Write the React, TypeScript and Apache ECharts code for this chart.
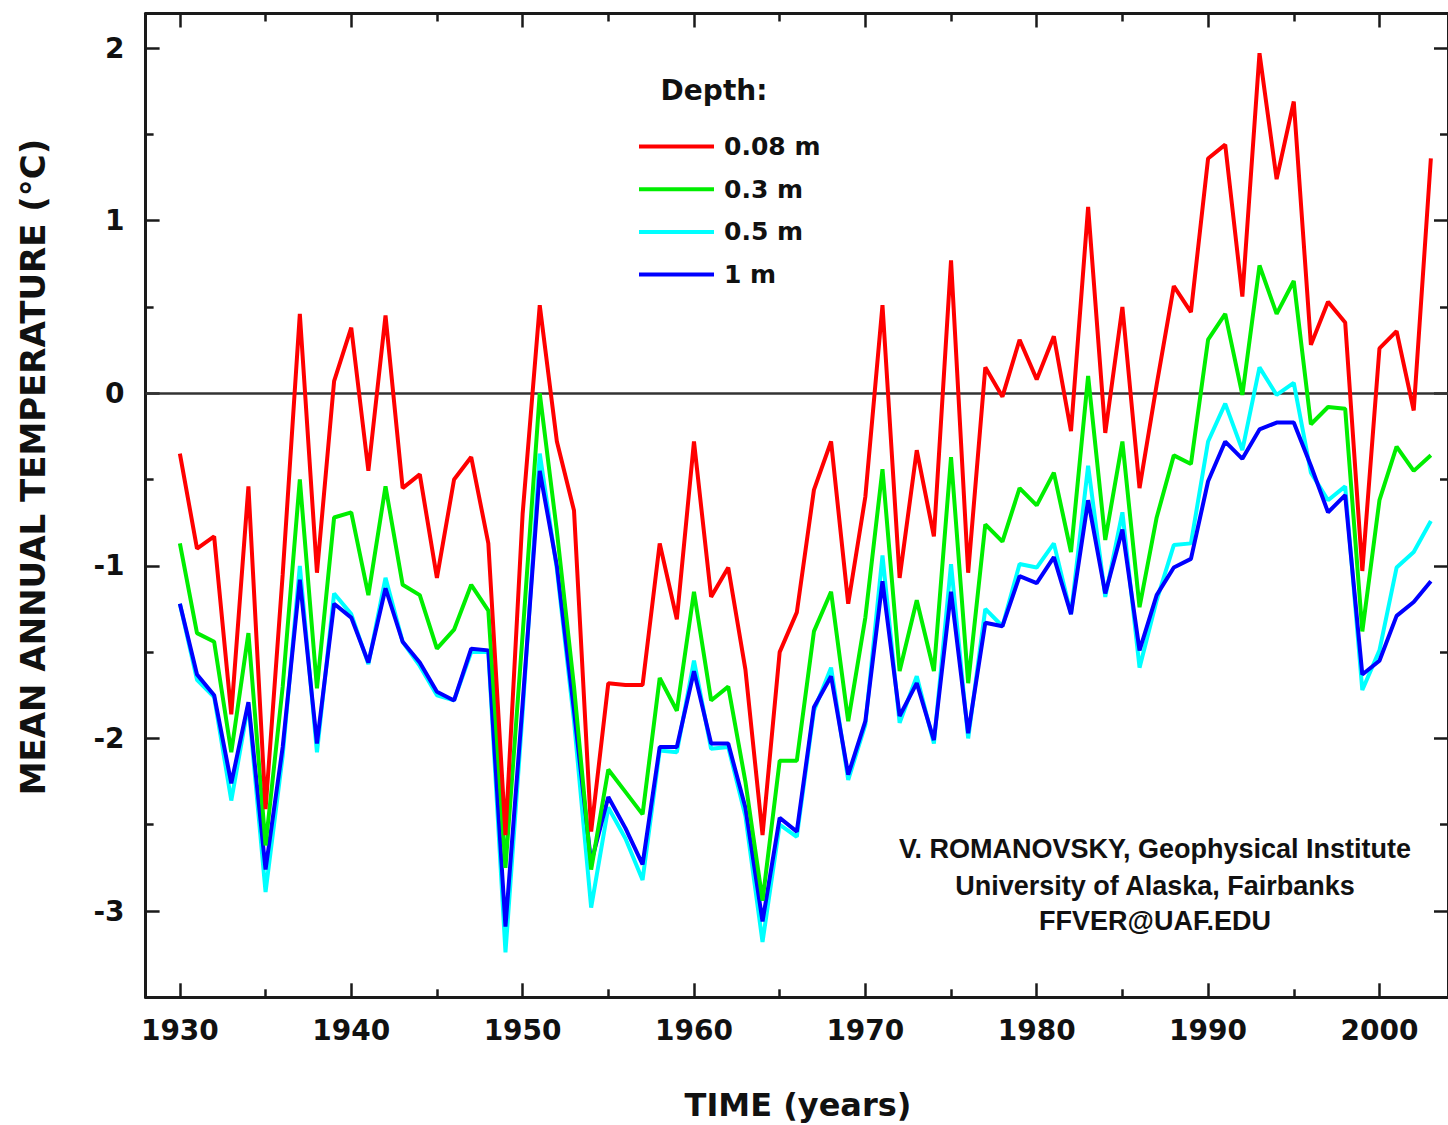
import React, { useEffect, useRef } from "react";
import * as echarts from "echarts";

const START_YEAR = 1930;

// Mean annual ground temperature (°C) by depth, 1930–2003
const depth008 = [
  -0.35, -0.9, -0.83, -1.86, -0.54, -2.41, -1.05, 0.46, -1.04, 0.07,
  0.38, -0.45, 0.45, -0.55, -0.47, -1.07, -0.5, -0.37, -0.87, -2.56,
  -0.7, 0.51, -0.28, -0.68, -2.54, -1.68, -1.69, -1.69, -0.87, -1.31,
  -0.28, -1.18, -1.01, -1.6, -2.56, -1.5, -1.27, -0.56, -0.28, -1.22,
  -0.6, 0.51, -1.07, -0.33, -0.83, 0.77, -1.04, 0.15, -0.02, 0.31,
  0.08, 0.33, -0.22, 1.08, -0.23, 0.5, -0.55, 0.05, 0.62, 0.47,
  1.36, 1.44, 0.56, 1.97, 1.24, 1.69, 0.28, 0.53, 0.41, -1.03,
  0.26, 0.36, -0.1, 1.36,
];
const depth03 = [
  -0.87, -1.39, -1.44, -2.08, -1.39, -2.62, -1.7, -0.5, -1.71, -0.72,
  -0.69, -1.17, -0.54, -1.11, -1.17, -1.48, -1.37, -1.11, -1.26, -2.75,
  -1.4, 0.0, -0.8, -1.7, -2.76, -2.18, -2.31, -2.44, -1.65, -1.84,
  -1.15, -1.78, -1.7, -2.25, -2.94, -2.13, -2.13, -1.38, -1.15, -1.9,
  -1.3, -0.44, -1.61, -1.2, -1.61, -0.37, -1.68, -0.76, -0.86, -0.55,
  -0.65, -0.46, -0.92, 0.1, -0.85, -0.28, -1.24, -0.72, -0.36, -0.41,
  0.31, 0.46, -0.01, 0.74, 0.46, 0.65, -0.18, -0.08, -0.09, -1.38,
  -0.62, -0.31, -0.45, -0.36,
];
const depth05 = [
  -1.22, -1.66, -1.76, -2.36, -1.8, -2.89, -2.1, -1.0, -2.08, -1.16,
  -1.28, -1.57, -1.07, -1.44, -1.58, -1.75, -1.78, -1.5, -1.5, -3.24,
  -1.85, -0.35, -1.02, -1.9, -2.98, -2.4, -2.58, -2.82, -2.07, -2.08,
  -1.55, -2.06, -2.05, -2.45, -3.18, -2.5, -2.57, -1.84, -1.59, -2.24,
  -1.92, -0.94, -1.91, -1.64, -2.03, -0.99, -2.0, -1.25, -1.35, -0.99,
  -1.01, -0.87, -1.28, -0.42, -1.18, -0.69, -1.59, -1.2, -0.88, -0.87,
  -0.28, -0.06, -0.33, 0.15, -0.01, 0.06, -0.46, -0.62, -0.54, -1.72,
  -1.49, -1.01, -0.92, -0.74,
];
const depth1 = [
  -1.22, -1.63, -1.75, -2.26, -1.79, -2.76, -2.05, -1.08, -2.03, -1.22,
  -1.3, -1.56, -1.13, -1.44, -1.56, -1.73, -1.78, -1.48, -1.49, -3.09,
  -1.8, -0.45, -1.0, -1.84, -2.72, -2.34, -2.52, -2.73, -2.05, -2.05,
  -1.61, -2.03, -2.03, -2.4, -3.06, -2.46, -2.54, -1.82, -1.64, -2.21,
  -1.9, -1.09, -1.87, -1.68, -2.01, -1.15, -1.97, -1.33, -1.35, -1.06,
  -1.1, -0.95, -1.28, -0.62, -1.16, -0.79, -1.49, -1.17, -1.01, -0.96,
  -0.51, -0.28, -0.38, -0.21, -0.17, -0.17, -0.42, -0.69, -0.59, -1.63,
  -1.55, -1.29, -1.21, -1.09,
];

const years = depth008.map((_, i) => START_YEAR + i);

const xMajorTicks = [1930, 1940, 1950, 1960, 1970, 1980, 1990, 2000];
const xMinorTicks = [1935, 1945, 1955, 1965, 1975, 1985, 1995];
const yMajorTicks = [-3, -2, -1, 0, 1, 2];
const yMinorTicks = [-2.5, -1.5, -0.5, 0.5, 1.5];

const seriesNames = ["0.08 m", "0.3 m", "0.5 m", "1 m"];
const seriesColors = ["#ff0000", "#00ee00", "#00ffff", "#0000ff"];

const creditLines = [
  "V. ROMANOVSKY, Geophysical Institute",
  "University of Alaska, Fairbanks",
  "FFVER@UAF.EDU",
];

const X_MIN = 1928;
const X_MAX = 2004;
const Y_MIN = -3.5;
const Y_MAX = 2.2;

const NUM_FONT = "DejaVu Sans";
const AXIS_COLOR = "#1a1a1a";

function pairs(values: number[]) {
  return values.map((v, i) => [years[i], v]);
}

export default function App() {
  const ref = useRef<HTMLDivElement>(null);

  useEffect(() => {
    if (!ref.current) return;
    const chart = echarts.init(ref.current, undefined, { renderer: "svg" });

    const gridRect = { left: 145.6, top: 13.5, width: 1306, height: 983.8 };

    const xBase = (gridIndex: number, position: "top" | "bottom", ticks: number[], len: number, labels: boolean, showLine: boolean) => ({
      type: "value",
      gridIndex,
      position,
      min: X_MIN,
      max: X_MAX,
      axisLine: { show: showLine, onZero: false, lineStyle: { color: AXIS_COLOR, width: 3 } },
      axisTick: {
        show: true,
        inside: true,
        length: len,
        customValues: ticks,
        lineStyle: { color: AXIS_COLOR, width: 2.5 },
      },
      axisLabel: labels
        ? {
            show: true,
            customValues: xMajorTicks,
            formatter: (v: number) => String(v),
            margin: 19,
            color: "#111",
            fontFamily: NUM_FONT,
            fontWeight: "bold",
            fontSize: 28,
          }
        : { show: false },
      splitLine: { show: false },
    });

    const yBase = (gridIndex: number, position: "left" | "right", ticks: number[], len: number, labels: boolean, showLine: boolean) => ({
      type: "value",
      gridIndex,
      position,
      min: Y_MIN,
      max: Y_MAX,
      axisLine: { show: showLine, onZero: false, lineStyle: { color: AXIS_COLOR, width: 3 } },
      axisTick: {
        show: true,
        inside: true,
        length: len,
        customValues: ticks,
        lineStyle: { color: AXIS_COLOR, width: 2.5 },
      },
      axisLabel: labels
        ? {
            show: true,
            customValues: yMajorTicks,
            formatter: (v: number) => String(v),
            margin: 21,
            color: "#111",
            fontFamily: NUM_FONT,
            fontWeight: "bold",
            fontSize: 28,
          }
        : { show: false },
      splitLine: { show: false },
    });

    const valueArrays = [depth008, depth03, depth05, depth1];
    // draw order: 0.5 m, 1 m, 0.3 m, 0.08 m (red on top)
    const drawOrder = [2, 3, 1, 0];

    const series: any[] = drawOrder.map((idx, k) => ({
      name: seriesNames[idx],
      type: "line",
      xAxisIndex: 0,
      yAxisIndex: 0,
      data: pairs(valueArrays[idx]),
      symbol: "none",
      color: seriesColors[idx],
      lineStyle: { color: seriesColors[idx], width: 4 },
      z: 3 + k,
      markLine:
        k === 0
          ? {
              silent: true,
              symbol: "none",
              label: { show: false },
              lineStyle: { color: "#333", width: 2.5, type: "solid" },
              data: [{ yAxis: 0 }],
              z: 2,
            }
          : undefined,
    }));

    const option: any = {
      animation: false,
      backgroundColor: "#ffffff",
      grid: [0, 1, 2, 3].map(() => ({ ...gridRect, containLabel: false })),
      xAxis: [
        xBase(0, "bottom", xMajorTicks, 14, true, true),
        xBase(1, "bottom", xMinorTicks, 8, false, false),
        xBase(2, "top", xMajorTicks, 14, false, true),
        xBase(3, "top", xMinorTicks, 8, false, false),
      ],
      yAxis: [
        yBase(0, "left", yMajorTicks, 14, true, true),
        yBase(1, "left", yMinorTicks, 8, false, false),
        yBase(2, "right", yMajorTicks, 14, false, true),
        yBase(3, "right", yMinorTicks, 8, false, false),
      ],
      legend: {
        data: seriesNames,
        orient: "vertical",
        left: 634,
        top: 129,
        itemWidth: 75,
        itemHeight: 4,
        itemGap: 17.7,
        icon: "rect",
        textStyle: {
          fontFamily: NUM_FONT,
          fontWeight: "bold",
          fontSize: 25,
          color: "#111",
          lineHeight: 25,
          padding: [0, 0, 0, 5],
        },
      },
      graphic: [
        {
          type: "text",
          x: 714,
          y: 90,
          style: {
            text: "Depth:",
            fontFamily: NUM_FONT,
            fontWeight: "bold",
            fontSize: 28,
            fill: "#111",
            textAlign: "center",
            textVerticalAlign: "middle",
          },
        },
        {
          type: "text",
          x: 33,
          y: 467,
          rotation: Math.PI / 2,
          style: {
            text: "MEAN ANNUAL TEMPERATURE (°C)",
            fontFamily: NUM_FONT,
            fontWeight: "bold",
            fontSize: 34,
            fill: "#111",
            textAlign: "center",
            textVerticalAlign: "middle",
          },
        },
        {
          type: "text",
          x: 798,
          y: 1105,
          style: {
            text: "TIME (years)",
            fontFamily: NUM_FONT,
            fontWeight: "bold",
            fontSize: 32,
            fill: "#111",
            textAlign: "center",
            textVerticalAlign: "middle",
          },
        },
        ...creditLines.map((t, i) => ({
          type: "text",
          x: 1155,
          y: [849, 886, 921][i],
          style: {
            text: t,
            fontFamily: "Liberation Sans",
            fontWeight: "bold",
            fontSize: 27,
            fill: "#111",
            textAlign: "center",
            textVerticalAlign: "middle",
          },
        })),
      ],
      series,
    };

    chart.setOption(option);
    return () => chart.dispose();
  }, []);

  return (
    <div
      ref={ref}
      style={{ position: "absolute", left: 0, top: 0, width: 1448, height: 1125, background: "#fff" }}
    />
  );
}
